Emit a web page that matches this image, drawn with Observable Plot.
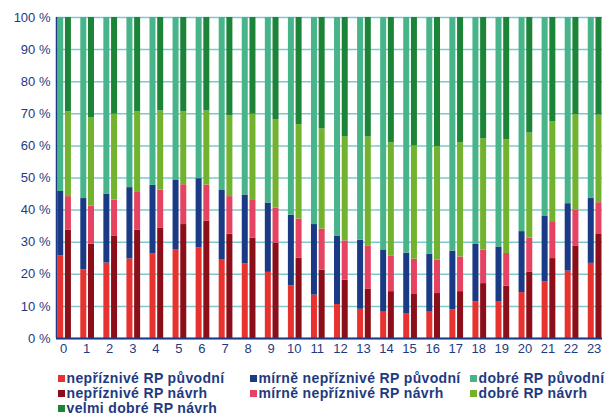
<!DOCTYPE html>
<html><head><meta charset="utf-8">
<script src="https://cdn.jsdelivr.net/npm/d3@7"></script>
<script src="https://cdn.jsdelivr.net/npm/@observablehq/plot@0.6"></script>
<style>
body{margin:0;background:#fff;font-family:"Liberation Sans",Arial,sans-serif;position:relative;width:609px;height:419px;overflow:hidden;}
#chart{width:609px;}
#legend{position:absolute;left:0;top:0;width:609px;height:419px;pointer-events:none;}
#legend div{position:absolute;white-space:nowrap;font-weight:bold;font-size:14px;letter-spacing:0.35px;color:#1f3a80;line-height:15px;}
#legend span.sw{display:inline-block;width:7px;height:7px;margin-right:1.5px;vertical-align:1px;}
</style></head>
<body>
<div id="chart"></div>
<div id="legend"></div>
<script>
const hours = [0,1,2,3,4,5,6,7,8,9,10,11,12,13,14,15,16,17,18,19,20,21,22,23];
const yTicks = [0,10,20,30,40,50,60,70,80,90,100];
// původní (original)
const neprizniveP = [25.8,21.4,23.5,24.8,26.3,27.7,28.2,24.6,23.3,20.6,16.4,13.5,10.6,9.1,8.2,7.6,8.2,8.9,11.4,11.5,14.3,17.7,21.0,23.4];
const mirneP      = [20.0,22.2,21.5,22.2,21.4,21.7,21.6,21.5,21.4,21.6,22.0,22.0,21.2,21.5,19.4,19.0,18.1,18.3,17.9,17.0,19.0,20.3,21.0,20.2];
const dobreP      = [54.2,56.4,55.0,53.0,52.3,50.6,50.2,53.9,55.3,57.8,61.6,64.5,68.2,69.4,72.4,73.4,73.7,72.8,70.7,71.5,66.7,62.0,58.0,56.4];
// návrh (proposal)
const neprizniveN = [33.7,29.4,31.8,33.7,34.3,35.5,36.6,32.5,31.3,29.6,25.0,21.3,18.2,15.3,14.6,13.7,14.0,14.6,17.1,16.3,20.6,24.9,28.7,32.4];
const mirneN      = [10.5,11.8,11.3,11.8,11.9,12.4,11.2,11.7,11.7,11.0,12.2,12.8,12.2,13.4,11.0,11.0,10.4,10.8,10.4,10.2,10.7,11.5,11.2,9.9];
const dobreN      = [26.4,27.5,26.8,25.1,24.7,22.7,23.1,25.2,26.9,27.6,29.4,31.2,32.4,34.1,35.4,35.3,35.4,35.6,34.7,35.4,32.7,31.1,29.8,27.3];
const velmiN      = [29.4,31.3,30.1,29.4,29.1,29.4,29.1,30.6,30.1,31.8,33.4,34.7,37.2,37.2,39.0,40.0,40.2,39.0,37.8,38.1,36.0,32.5,30.3,30.4];

const seriesNames = ["nepříznivé RP původní","mírně nepříznivé RP původní","dobré RP původní","nepříznivé RP návrh","mírně nepříznivé RP návrh","dobré RP návrh","velmi dobré RP návrh"];
const colors = ["#e8322f","#1b3a85","#48b48a","#8b0e18","#e64262","#72b22f","#1c8437"];

const groups = [
  {offset:-0.167, series:[[seriesNames[0],neprizniveP],[seriesNames[1],mirneP],[seriesNames[2],dobreP]]},
  {offset: 0.167, series:[[seriesNames[3],neprizniveN],[seriesNames[4],mirneN],[seriesNames[5],dobreN],[seriesNames[6],velmiN]]}
];
const barW = 0.26;
const rows = [];
for (const g of groups) {
  hours.forEach((h,i) => {
    let acc = 0;
    for (const [name, vals] of g.series) {
      const v = vals[i];
      rows.push({hour:h, x1:h+g.offset-barW/2, x2:h+g.offset+barW/2, y1:acc, y2:Math.min(100,acc+v), series:name});
      acc += v;
    }
  });
}
const xDomain = [-0.35, 23.32];
const blue = "#1f3a80";
const plot = Plot.plot({
  width: 609, height: 362,
  marginLeft: 56, marginRight: 7, marginTop: 17, marginBottom: 24,
  style: {fontFamily: "'Liberation Sans', Arial, sans-serif", fontSize: "13px", color: blue, background: "#fff"},
  x: {type: "linear", domain: xDomain, label: null, axis: null},
  y: {domain: [0,100], ticks: yTicks, tickFormat: d => d + " %", tickSize: 0, tickPadding: 6, label: null},
  color: {domain: seriesNames, range: colors},
  marks: [
    Plot.ruleY(yTicks, {stroke: "#7ccad1", strokeWidth: 1.5}),
    Plot.rect(rows, {x1: "x1", x2: "x2", y1: "y1", y2: "y2", fill: "series"}),
    Plot.ruleX([xDomain[0]], {y1: 0, y2: 100, stroke: "#1b3a85", strokeWidth: 1.5}),
    Plot.ruleY([0], {stroke: "#1b3a85", strokeWidth: 2}),
    Plot.axisX(hours, {tickSize: 0, tickPadding: 5, tickFormat: d => String(d), dx: -1, label: null, fontSize: 13, fill: blue})
  ]
});
document.getElementById("chart").appendChild(plot);
const legendCols = [58, 250, 470];
const legendRows = [370.5, 385.5, 400.5];
const leg = document.getElementById("legend");
seriesNames.forEach((name, i) => {
  const d = document.createElement("div");
  d.style.left = legendCols[i % 3] + "px";
  d.style.top = legendRows[Math.floor(i / 3)] + "px";
  d.innerHTML = `<span class="sw" style="background:${colors[i]}"></span>${name}`;
  leg.appendChild(d);
});
</script>
</body></html>
